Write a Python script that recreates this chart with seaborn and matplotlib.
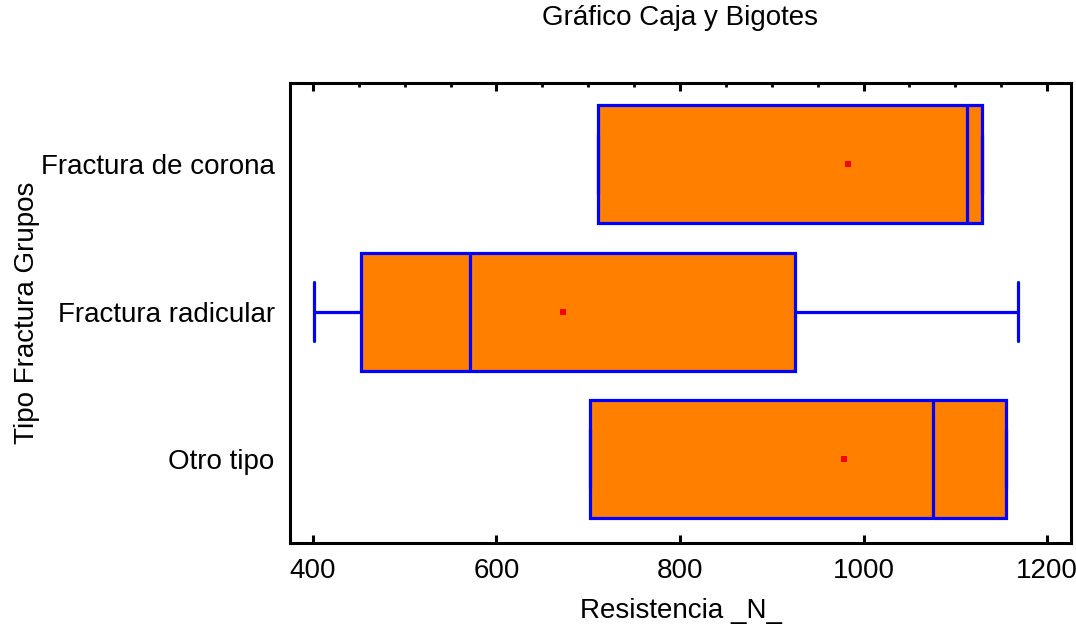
import numpy as np
import pandas as pd
import seaborn as sns
import matplotlib.pyplot as plt
from matplotlib.ticker import MultipleLocator

grupos = ["Fractura de corona", "Fractura radicular", "Otro tipo"]
minimos = [710.6, 401.0, 701.5]
q1 = [710.6, 452.0, 701.5]
medianas = [1113.0, 571.0, 1076.0]
q3 = [1129.0, 925.0, 1155.4]
maximos = [1129.0, 1168.0, 1155.4]
medias = [983.5, 672.8, 979.0]

# five-number summary per group -> long table for seaborn
filas = []
for g, a, b, c, d, e in zip(grupos, minimos, q1, medianas, q3, maximos):
    for v in (a, b, c, d, e):
        filas.append({"grupo": g, "resistencia": v})
df = pd.DataFrame(filas)

sns.set_style("white")
plt.rcParams['font.family'] = ['Liberation Sans', 'DejaVu Sans']
plt.rcParams['text.color'] = 'black'
plt.rcParams['axes.labelcolor'] = 'black'
plt.rcParams['xtick.color'] = 'black'
plt.rcParams['ytick.color'] = 'black'

naranja = "#FF8000"
azul = "#0000FF"

fig = plt.figure(figsize=(10.76, 6.28), dpi=100)
ax = fig.add_axes([290/1076, 1-543/628, (1071-290)/1076, (543-83)/628])

lp = dict(color=azul, linewidth=2.3)
sns.boxplot(data=df, x="resistencia", y="grupo", order=grupos, orient="h",
            whis=(0, 100), width=0.8, showfliers=False, ax=ax,
            boxprops=dict(facecolor=naranja, edgecolor=azul, linewidth=2.3),
            medianprops=lp, whiskerprops=lp, capprops=lp)
sns.stripplot(x=medias, y=grupos, order=grupos, orient="h", jitter=False,
              marker="s", size=4.5, color="red", linewidth=0, ax=ax)

ax.set_xlim(375, 1226)
ax.set_ylim(2.57, -0.55)
ax.xaxis.set_major_locator(MultipleLocator(200))
ax.xaxis.set_minor_locator(MultipleLocator(50))
ax.tick_params(axis="x", which="major", direction="in", bottom=True, top=True,
               length=6, width=2.2, labelsize=20, pad=11, color="black",
               labelcolor="black")
ax.tick_params(axis="x", which="minor", direction="in", bottom=False, top=True,
               length=3, width=2, color="black")
ax.tick_params(axis="y", left=False, length=0, labelsize=20, pad=11,
               labelcolor="black")
for s in ax.spines.values():
    s.set_visible(True)
    s.set_color("black")
    s.set_linewidth(2.2)

ax.set_xlabel("Resistencia _N_", fontsize=20, labelpad=10, color="black")
ax.set_ylabel("Tipo Fractura Grupos", fontsize=20, color="black")
ax.yaxis.set_label_coords(-(290-40)/781, 0.5)
fig.text(680/1076, 1-18/628, "Gráfico Caja y Bigotes", fontsize=20,
         ha="center", va="center", color="black")

fig.savefig("out.png", dpi=100)
